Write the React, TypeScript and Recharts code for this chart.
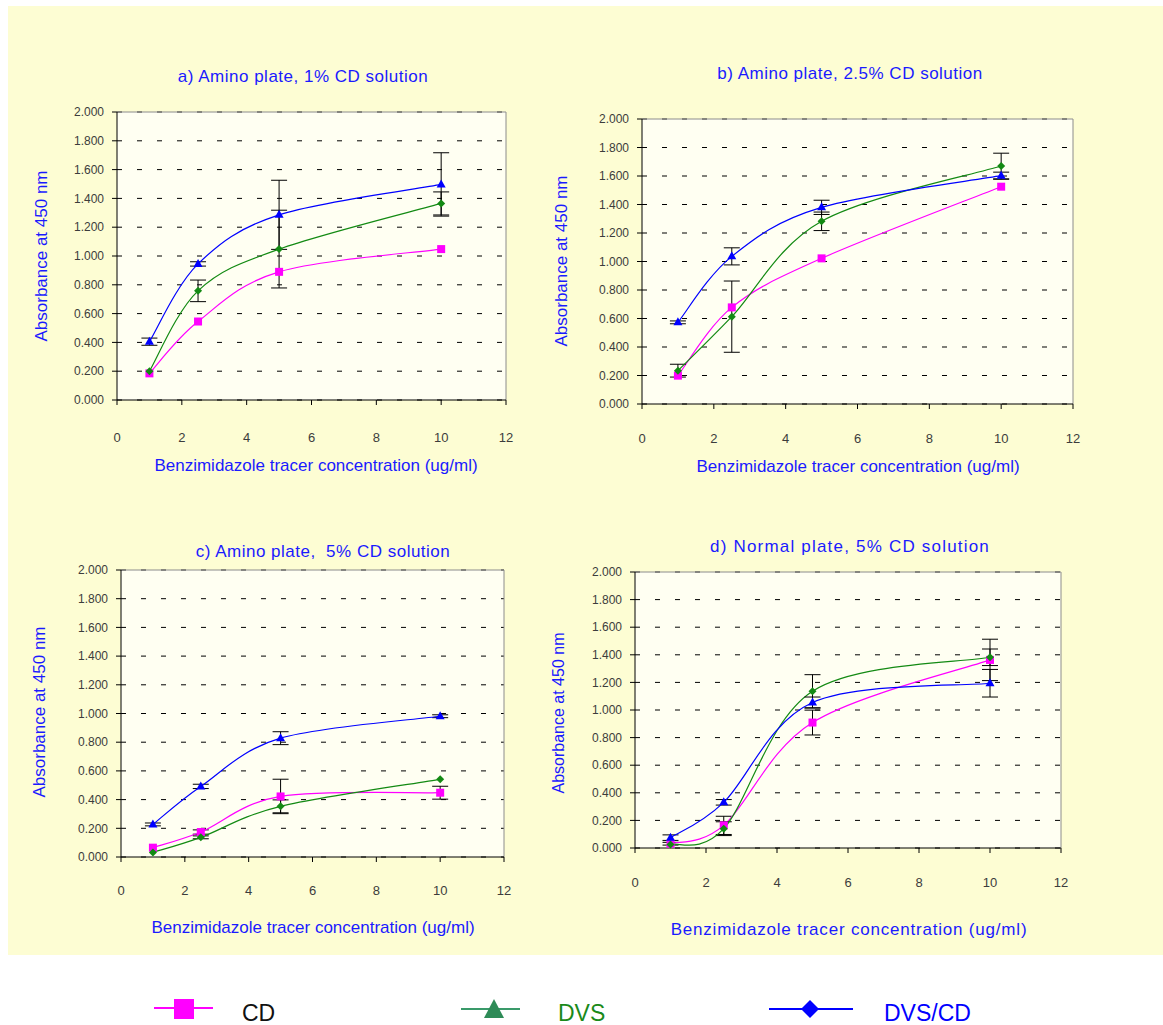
import React from "react";
import { LineChart, Line, XAxis, YAxis, CartesianGrid, ErrorBar, ReferenceLine } from "recharts";

// concentrations (ug/ml)
const concentrations = [1, 2.5, 5, 10];
const xTicks = [0, 2, 4, 6, 8, 10, 12];
const yTicks = [0, 0.2, 0.4, 0.6, 0.8, 1.0, 1.2, 1.4, 1.6, 1.8, 2.0];

// a) Amino plate, 1% CD
const cdA = [0.185, 0.545, 0.89, 1.048];
const dvsA = [0.2, 0.758, 1.048, 1.365];
const dvscdA = [0.405, 0.945, 1.286, 1.497];
const cdErrA = [0, 0, 0, 0];
const dvsErrA = [0, 0.075, 0.27, 0.08];
const dvscdErrA = [0.025, 0.015, 0.24, 0.22];

// b) Amino plate, 2.5% CD
const cdB = [0.199, 0.678, 1.022, 1.525];
const dvsB = [0.234, 0.613, 1.282, 1.67];
const dvscdB = [0.573, 1.036, 1.38, 1.602];
const cdErrB = [0, 0, 0, 0];
const dvsErrB = [0.045, 0.25, 0.065, 0.09];
const dvscdErrB = [0.01, 0.06, 0.05, 0.025];

// c) Amino plate, 5% CD
const cdC = [0.065, 0.174, 0.422, 0.448];
const dvsC = [0.032, 0.137, 0.353, 0.541];
const dvscdC = [0.227, 0.492, 0.828, 0.981];
const cdErrC = [0, 0.015, 0.12, 0.045];
const dvsErrC = [0, 0.01, 0.045, 0];
const dvscdErrC = [0.01, 0.015, 0.045, 0.01];

// d) Normal plate, 5% CD
const cdD = [0.031, 0.164, 0.909, 1.363];
const dvsD = [0.025, 0.14, 1.136, 1.382];
const dvscdD = [0.075, 0.331, 1.054, 1.194];
const cdErrD = [0.01, 0.066, 0.09, 0.15];
const dvsErrD = [0, 0.05, 0.12, 0.06];
const dvscdErrD = [0.02, 0.02, 0.04, 0.1];

const FONT = "'Liberation Sans', Arial, sans-serif";
const BLUE = "#1a1aff";
const MAGENTA = "#ff00ff";
const GREEN = "#138a13";
const LINE_BLUE = "#0000ff";

const buildRows = (cd: number[], dvs: number[], dvscd: number[], cdE: number[], dvsE: number[], dvscdE: number[]) =>
  concentrations.map((x, i) => ({
    x,
    cd: cd[i],
    dvs: dvs[i],
    dvscd: dvscd[i],
    cdErr: cdE[i],
    dvsErr: dvsE[i],
    dvscdErr: dvscdE[i],
  }));

// Excel-style smoothed line (Catmull-Rom as cubic beziers)
const excelSmooth: any = (context: any) => {
  let pts: number[][] = [];
  return {
    areaStart() {},
    areaEnd() {},
    lineStart() {
      pts = [];
    },
    point(x: number, y: number) {
      pts.push([+x, +y]);
    },
    lineEnd() {
      const n = pts.length;
      if (!n) return;
      context.moveTo(pts[0][0], pts[0][1]);
      for (let i = 0; i < n - 1; i++) {
        const p0 = pts[Math.max(i - 1, 0)];
        const p1 = pts[i];
        const p2 = pts[i + 1];
        const p3 = pts[Math.min(i + 2, n - 1)];
        context.bezierCurveTo(
          p1[0] + (p2[0] - p0[0]) / 6,
          p1[1] + (p2[1] - p0[1]) / 6,
          p2[0] - (p3[0] - p1[0]) / 6,
          p2[1] - (p3[1] - p1[1]) / 6,
          p2[0],
          p2[1]
        );
      }
    },
  };
};

const SquareDot = (props: any) => {
  const { cx, cy, index } = props;
  if (cx == null || cy == null) return <g key={`s${index}`} />;
  return <rect key={`s${index}`} x={cx - 4} y={cy - 4} width={8} height={8} fill={MAGENTA} />;
};

const DiamondDot = (props: any) => {
  const { cx, cy, index } = props;
  if (cx == null || cy == null) return <g key={`d${index}`} />;
  return <polygon key={`d${index}`} points={`${cx},${cy - 4} ${cx + 4},${cy} ${cx},${cy + 4} ${cx - 4},${cy}`} fill={GREEN} />;
};

const TriangleDot = (props: any) => {
  const { cx, cy, index } = props;
  if (cx == null || cy == null) return <g key={`t${index}`} />;
  return <polygon key={`t${index}`} points={`${cx},${cy - 5} ${cx + 4.5},${cy + 3} ${cx - 4.5},${cy + 3}`} fill={LINE_BLUE} />;
};

interface PanelProps {
  rows: any[];
  plotLeft: number;
  plotTop: number;
  plotWidth: number;
  plotHeight: number;
  tickGap: number;
  title: string;
  titleX: number;
  titleY: number;
  titleSpacing?: number;
  xLabelX: number;
  xLabelY: number;
  xLabelSpacing?: number;
  yLabelX: number;
  yLabelY: number;
  yLabelSize?: number;
}

const Panel = (p: PanelProps) => {
  const yAxisW = 70;
  const xAxisH = 50;
  const top = 10;
  return (
    <>
      <div
        style={{
          position: "absolute",
          left: p.titleX,
          top: p.titleY,
          transform: "translate(-50%, -50%)",
          whiteSpace: "pre",
          color: BLUE,
          fontFamily: FONT,
          fontSize: 17,
          letterSpacing: p.titleSpacing ?? 0.5,
        }}
      >
        {p.title}
      </div>
      <div
        style={{
          position: "absolute",
          left: p.xLabelX,
          top: p.xLabelY,
          transform: "translate(-50%, -50%)",
          whiteSpace: "pre",
          color: BLUE,
          fontFamily: FONT,
          fontSize: 17,
          letterSpacing: p.xLabelSpacing ?? 0,
        }}
      >
        Benzimidazole tracer concentration (ug/ml)
      </div>
      <div
        style={{
          position: "absolute",
          left: p.yLabelX,
          top: p.yLabelY,
          transform: "translate(-50%, -50%) rotate(-90deg)",
          whiteSpace: "pre",
          color: BLUE,
          fontFamily: FONT,
          fontSize: p.yLabelSize ?? 17,
        }}
      >
        Absorbance at 450 nm
      </div>
      <div style={{ position: "absolute", left: p.plotLeft - yAxisW, top: p.plotTop - top }}>
        <LineChart
          width={p.plotWidth + yAxisW + 10}
          height={p.plotHeight + top + xAxisH}
          data={p.rows}
          margin={{ top, right: 10, left: 0, bottom: 0 }}
        >
          <CartesianGrid
            vertical={false}
            horizontalValues={yTicks}
            stroke="#000"
            strokeDasharray="5 15"
            fill="#fffff2"
            fillOpacity={1}
          />
          <ReferenceLine x={12} stroke="#8c8c8c" strokeWidth={1} />
          <ReferenceLine y={2} stroke="#8c8c8c" strokeWidth={1} />
          <XAxis
            dataKey="x"
            type="number"
            domain={[0, 12]}
            ticks={xTicks}
            height={xAxisH}
            stroke="#000"
            tickSize={5}
            tickMargin={p.tickGap - 1}
            tick={{ fill: "#3c3c3c", fontSize: 13, fontFamily: FONT }}
          />
          <YAxis
            type="number"
            domain={[0, 2]}
            ticks={yTicks}
            width={yAxisW}
            stroke="#000"
            tickSize={5}
            tickMargin={8}
            tickFormatter={(v: number) => v.toFixed(3)}
            tick={{ fill: "#3c3c3c", fontSize: 12, fontFamily: FONT }}
          />
          <Line dataKey="cd" type={excelSmooth} stroke={MAGENTA} strokeWidth={1.2} dot={SquareDot} activeDot={false} isAnimationActive={false}>
            <ErrorBar dataKey="cdErr" direction="y" width={8} stroke="#000" strokeWidth={1} />
          </Line>
          <Line dataKey="dvs" type={excelSmooth} stroke={GREEN} strokeWidth={1.2} dot={DiamondDot} activeDot={false} isAnimationActive={false}>
            <ErrorBar dataKey="dvsErr" direction="y" width={8} stroke="#000" strokeWidth={1} />
          </Line>
          <Line dataKey="dvscd" type={excelSmooth} stroke={LINE_BLUE} strokeWidth={1.2} dot={TriangleDot} activeDot={false} isAnimationActive={false}>
            <ErrorBar dataKey="dvscdErr" direction="y" width={8} stroke="#000" strokeWidth={1} />
          </Line>
        </LineChart>
      </div>
    </>
  );
};

const Legend = () => (
  <svg style={{ position: "absolute", left: 0, top: 985 }} width={1163} height={40}>
    <line x1={154} y1={23} x2={213} y2={23} stroke={MAGENTA} strokeWidth={2} />
    <rect x={174} y={14} width={20} height={20} fill={MAGENTA} />
    <text x={242} y={36} fontFamily={FONT} fontSize={23} fill="#111">CD</text>
    <line x1={461} y1={24} x2={520} y2={24} stroke="#3a9a6a" strokeWidth={2} />
    <polygon points="494,14 504,33 484,33" fill="#2e8b57" />
    <text x={558} y={36} fontFamily={FONT} fontSize={23} fill="#1a8a1a">DVS</text>
    <line x1={769} y1={24} x2={853} y2={24} stroke={LINE_BLUE} strokeWidth={2} />
    <polygon points="810,15 819,24 810,33 801,24" fill={LINE_BLUE} />
    <text x={884} y={36} fontFamily={FONT} fontSize={23} fill={LINE_BLUE}>DVS/CD</text>
  </svg>
);

export default function App() {
  const rowsA = buildRows(cdA, dvsA, dvscdA, cdErrA, dvsErrA, dvscdErrA);
  const rowsB = buildRows(cdB, dvsB, dvscdB, cdErrB, dvsErrB, dvscdErrB);
  const rowsC = buildRows(cdC, dvsC, dvscdC, cdErrC, dvsErrC, dvscdErrC);
  const rowsD = buildRows(cdD, dvsD, dvscdD, cdErrD, dvsErrD, dvscdErrD);
  return (
    <div style={{ position: "absolute", left: 0, top: 0, width: 1163, height: 1025, background: "#fff", overflow: "hidden" }}>
      <div style={{ position: "absolute", left: 8, top: 6, width: 1155, height: 949, background: "#fdfdd3" }} />
      <Panel
        rows={rowsA}
        plotLeft={117}
        plotTop={112}
        plotWidth={389}
        plotHeight={288}
        tickGap={29}
        title="a) Amino plate, 1% CD solution"
        titleX={303}
        titleY={77}
        xLabelX={316}
        xLabelY={466}
        yLabelX={42}
        yLabelY={256}
      />
      <Panel
        rows={rowsB}
        plotLeft={642}
        plotTop={119}
        plotWidth={431}
        plotHeight={285}
        tickGap={26}
        title="b) Amino plate, 2.5% CD solution"
        titleX={850}
        titleY={74}
        xLabelX={858}
        xLabelY={467}
        yLabelX={562}
        yLabelY={261}
      />
      <Panel
        rows={rowsC}
        plotLeft={121}
        plotTop={570}
        plotWidth={383}
        plotHeight={287}
        tickGap={25}
        title="c) Amino plate,  5% CD solution"
        titleX={323}
        titleY={552}
        xLabelX={313}
        xLabelY={928}
        yLabelX={40}
        yLabelY={712}
      />
      <Panel
        rows={rowsD}
        plotLeft={635}
        plotTop={572}
        plotWidth={426}
        plotHeight={276}
        tickGap={26}
        title="d) Normal plate, 5% CD solution"
        titleX={850}
        titleY={547}
        titleSpacing={1.2}
        xLabelX={849}
        xLabelY={930}
        xLabelSpacing={0.8}
        yLabelX={559}
        yLabelY={713}
        yLabelSize={16}
      />
      <Legend />
    </div>
  );
}
